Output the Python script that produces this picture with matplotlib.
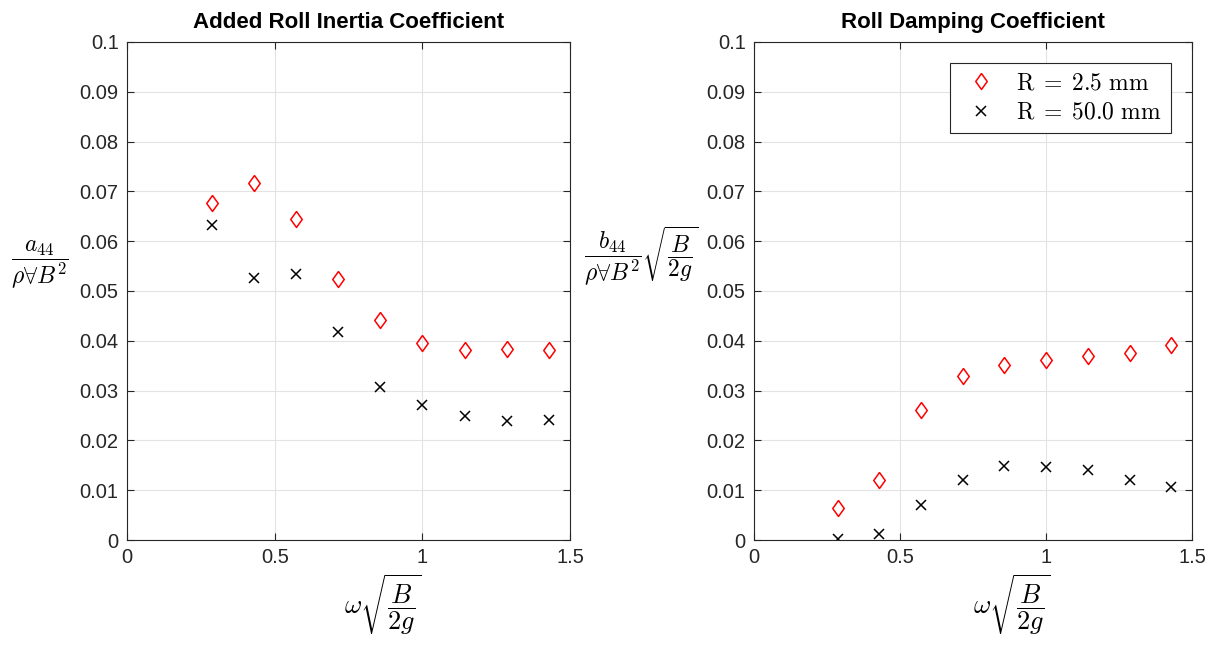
import numpy as np
import matplotlib
matplotlib.use("Agg")
import matplotlib.pyplot as plt

plt.rcParams['font.family'] = ['Liberation Sans', 'DejaVu Sans']
plt.rcParams['mathtext.fontset'] = 'cm'

# frequency (non-dimensional)
omega = [0.286, 0.429, 0.571, 0.714, 0.857, 1.0, 1.143, 1.286, 1.429]

# added roll inertia
a44_r25 = [0.0677, 0.0717, 0.0645, 0.0524, 0.0442, 0.0396, 0.0381, 0.0384, 0.0381]
a44_r50 = [0.0633, 0.0526, 0.0535, 0.0417, 0.0307, 0.0272, 0.0250, 0.0239, 0.0240]

# roll damping
b44_r25 = [0.0064, 0.0121, 0.0262, 0.0330, 0.0352, 0.0362, 0.0369, 0.0375, 0.0392]
b44_r50 = [0.0003, 0.0012, 0.0071, 0.0121, 0.0149, 0.0146, 0.0140, 0.0121, 0.0107]

labels = [r'$\mathrm{R}\;=\;2.5\ \mathrm{mm}$', r'$\mathrm{R}\;=\;50.0\ \mathrm{mm}$']

# MATLAB-like diamond (wider than matplotlib's 'd')
diamond = [(0, 1), (0.72, 0), (0, -1), (-0.72, 0), (0, 1)]

fig = plt.figure(figsize=(12.17, 6.54), dpi=100)
ax1 = fig.add_axes([0.1044, 0.1743, 0.364, 0.7615])
ax2 = fig.add_axes([0.6196, 0.1743, 0.360, 0.7615])


def style(ax, title, ylabel, ylab_pos, xlab_x):
    ax.set_xlim(0, 1.5)
    ax.set_ylim(0, 0.1)
    ax.set_xticks([0, 0.5, 1, 1.5])
    ax.set_xticklabels(['0', '0.5', '1', '1.5'])
    ax.set_yticks(np.arange(0, 0.101, 0.01))
    ax.set_yticklabels(['0'] + ['%.2f' % v for v in np.arange(0.01, 0.1, 0.01)] + ['0.1'])
    ax.tick_params(direction='in', length=5, labelsize=14.5, colors='#262626',
                   top=True, right=True, pad=6)
    ax.grid(True, color='#e3e3e3', linewidth=0.8)
    ax.set_axisbelow(True)
    for s in ax.spines.values():
        s.set_color('#262626')
        s.set_linewidth(0.8)
    ax.set_title(title, fontsize=16, fontweight='bold', family='Liberation Sans', pad=10)
    ax.set_xlabel(r'$\omega\sqrt{\dfrac{B}{2g}}$', fontsize=19, va='top')
    ax.xaxis.set_label_coords(xlab_x, -0.065)
    ax.set_ylabel(ylabel, fontsize=17, rotation=0, va='center', ha='center')
    ax.yaxis.set_label_coords(*ylab_pos)


ax1.plot(omega, a44_r25, linestyle='none', marker=diamond, markersize=11.5, markerfacecolor='none',
         markeredgecolor='red', markeredgewidth=1.1, label=labels[0])
ax1.plot(omega, a44_r50, linestyle='none', marker='x', markersize=7, color='black',
         markeredgewidth=1.1, label=labels[1])
style(ax1, 'Added Roll Inertia Coefficient', r'$\dfrac{a_{44}}{\rho\forall B^2}$',
      (-0.196, 0.552), 0.578)

ax2.plot(omega, b44_r25, linestyle='none', marker=diamond, markersize=11.5, markerfacecolor='none',
         markeredgecolor='red', markeredgewidth=1.1, label=labels[0])
ax2.plot(omega, b44_r50, linestyle='none', marker='x', markersize=7, color='black',
         markeredgewidth=1.1, label=labels[1])
style(ax2, 'Roll Damping Coefficient',
      r'$\dfrac{b_{44}}{\rho\forall B^2}\sqrt{\dfrac{B}{2g}}$', (-0.258, 0.57), 0.589)

leg = ax2.legend(loc='upper right', fontsize=17, fancybox=False, framealpha=1,
                 edgecolor='#262626', borderaxespad=0.9, handletextpad=0.6,
                 handlelength=1.8, labelspacing=0.3, borderpad=0.4)
leg.get_frame().set_linewidth(0.8)

fig.savefig('out.png', dpi=100)
